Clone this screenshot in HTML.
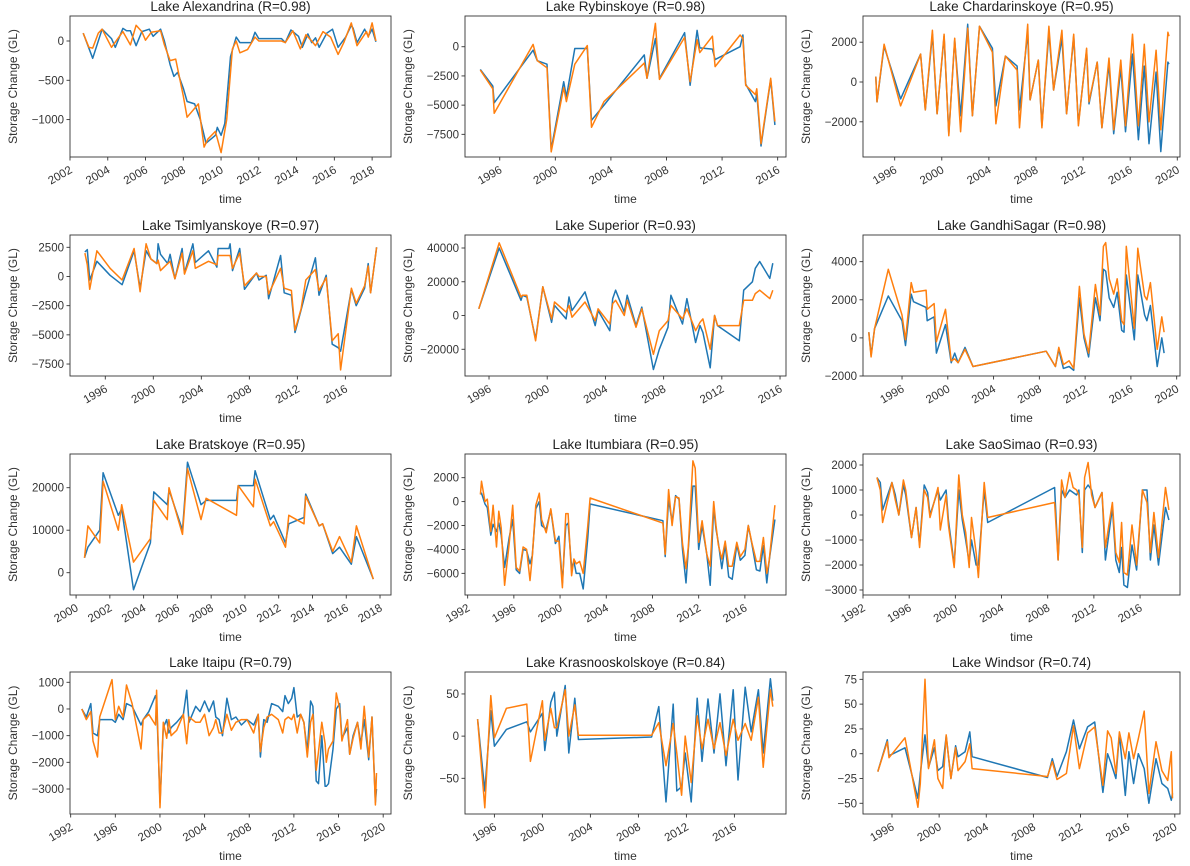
<!DOCTYPE html>
<html><head><meta charset="utf-8"><style>
html,body{margin:0;padding:0;background:#fff;}
svg{display:block;font-family:"Liberation Sans","DejaVu Sans",sans-serif;}
</style></head><body>
<svg id="fig" width="1190" height="866" viewBox="0 0 1190 866" xmlns="http://www.w3.org/2000/svg"></svg>
<script>
// ---- Panel data (years, GL) ----
const titles = ["Lake Alexandrina (R=0.98)","Lake Rybinskoye (R=0.98)","Lake Chardarinskoye (R=0.95)","Lake Tsimlyanskoye (R=0.97)","Lake Superior (R=0.93)","Lake GandhiSagar (R=0.98)","Lake Bratskoye (R=0.95)","Lake Itumbiara (R=0.95)","Lake SaoSimao (R=0.93)","Lake Itaipu (R=0.79)","Lake Krasnooskolskoye (R=0.84)","Lake Windsor (R=0.74)"];

const xTicks1=[2002,2004,2006,2008,2010,2012,2014,2016,2018];
const xTicks4=[1996,2000,2004,2008,2012,2016];
const xTicks4b=[1996,2000,2004,2008,2012,2016,2020];
const xTicksB=[2000,2002,2004,2006,2008,2010,2012,2014,2016,2018];
const xTicks92=[1992,1996,2000,2004,2008,2012,2016];
const xTicks92b=[1992,1996,2000,2004,2008,2012,2016,2020];

const yTicks=[[-1000,-500,0],[-7500,-5000,-2500,0],[-2000,0,2000],[-7500,-5000,-2500,0,2500],[-20000,0,20000,40000],[-2000,0,2000,4000],[0,10000,20000],[-6000,-4000,-2000,0,2000],[-3000,-2000,-1000,0,1000,2000],[-3000,-2000,-1000,0,1000],[-50,0,50],[-50,-25,0,25,50,75]];
const xDomains=[[2002,2019],[1993.5,2016.6],[1993.31,2020.23],[1993.06,2019.8],[1994.35,2016.41],[1992.59,2020.29],[1999.64,2018.65],[1991.77,2019.56],[1992.0,2019.46],[1991.94,2020.7],[1993.55,2020.3],[1993.54,2020.44]];
const yDomains=[[-1476,318],[-9440,2630],[-3769,3317],[-8526,3554],[-35830,47700],[-2000,5400],[-5250,27930],[-7810,3980],[-3200,2440],[-3937,1386],[-92.3,76],[-60.8,82.4]];

// 1 Alexandrina
const t1b=[2002.7,2003.2,2003.7,2004.2,2004.4,2004.8,2005.0,2005.2,2005.5,2005.8,2006.2,2006.4,2006.8,2007.0,2007.3,2007.5,2007.7,2008.0,2008.2,2008.6,2008.9,2009.2,2009.7,2009.8,2010.0,2010.2,2010.5,2010.8,2011.0,2011.6,2011.8,2012.0,2013.2,2013.4,2013.7,2014.1,2014.3,2014.6,2014.8,2015.0,2015.2,2015.6,2015.9,2016.2,2016.6,2016.9,2017.0,2017.2,2017.6,2017.8,2018.0,2018.2];
const v1b=[100,-220,150,30,-80,160,130,130,-60,120,150,60,150,0,-300,-450,-400,-600,-770,-800,-1000,-1300,-1200,-1100,-1200,-1050,-200,50,-20,-20,110,30,30,-20,140,60,-80,90,-20,40,-80,100,150,-80,50,200,160,-20,150,60,150,-10];
const t1o=[2002.7,2003.0,2003.2,2003.5,2003.7,2004.2,2004.8,2005.2,2005.5,2005.8,2006.0,2006.3,2006.8,2007.0,2007.3,2007.6,2008.0,2008.2,2008.8,2009.1,2009.3,2009.7,2010.0,2010.3,2010.6,2010.8,2011.0,2011.4,2011.8,2012.0,2013.2,2013.4,2013.8,2014.2,2014.5,2014.8,2015.0,2015.4,2015.8,2016.2,2016.5,2016.9,2017.2,2017.7,2017.8,2018.0,2018.2];
const v1o=[100,-80,-90,100,150,-80,120,-50,200,120,10,110,130,-50,-250,-230,-700,-970,-800,-1350,-1250,-1150,-1420,-1000,-100,0,-150,-110,50,0,0,-20,130,-100,80,0,-60,120,50,-170,-20,230,-60,120,50,230,0];
// 2 Rybinskoye
const t2=[1994.6,1995.5,1995.6,1998.4,1998.7,1999.4,1999.7,2000.6,2000.8,2001.4,2002.3,2002.6,2003.5,2006.4,2006.6,2007.2,2007.5,2009.3,2009.7,2010.2,2010.4,2011.3,2011.5,2013.3,2013.5,2013.7,2014.4,2014.5,2014.8,2015.5,2015.8];
const v2b=[-1940,-3370,-4800,-300,-1200,-1500,-8800,-3000,-4300,-150,-150,-6300,-5000,-700,-2700,700,-2700,1200,-3300,1400,-100,-200,-1100,0,1000,-3200,-4700,-4000,-8500,-2800,-6700];
const v2o=[-2000,-3600,-5700,200,-1200,-1800,-9000,-3500,-4700,-1500,100,-6900,-4700,-1400,-2700,2000,-2800,800,-3000,600,-500,900,-1700,1000,700,-3300,-4100,-3600,-8300,-2700,-6400];
// 3 Chardarinskoye
const t3=[1994.4,1994.5,1995.1,1996.5,1998.2,1998.6,1999.2,1999.6,2000.2,2000.6,2001.1,2001.6,2002.2,2002.6,2003.2,2004.3,2004.6,2005.4,2006.4,2006.6,2007.3,2007.5,2008.2,2008.5,2009.1,2009.5,2010.2,2010.6,2011.2,2011.6,2012.3,2012.5,2013.2,2013.6,2014.2,2014.6,2015.2,2015.6,2016.2,2016.7,2017.2,2017.6,2018.2,2018.6,2019.2,2019.3];
const v3b=[270,-1000,1800,-850,1400,-1400,2400,-1600,2300,-2600,2100,-1700,2900,-1700,2800,1700,-1200,1300,800,-1400,2500,-900,1100,-2200,2500,-400,2200,-1600,2300,-2100,1600,-1100,1000,-2300,900,-2600,700,-2500,1400,-2900,800,-3100,500,-3500,1000,900];
const v3o=[270,-1000,1900,-1200,1400,-1400,2600,-1600,2400,-2700,2200,-2500,2700,-1700,2800,1500,-2100,1300,600,-2300,2900,-900,1100,-2300,2800,-400,2600,-1600,2400,-2200,1700,-1000,1000,-2300,1200,-2400,1100,-2200,2400,-2200,1900,-2000,1600,-2400,2500,2300];
// 4 Tsimlyanskoye
const t4=[1994.3,1994.5,1994.7,1995.3,1996.4,1997.4,1998.4,1998.9,1999.4,1999.8,2000.3,2000.4,2000.6,2001.2,2001.4,2001.8,2002.4,2002.6,2003.3,2003.5,2004.6,2005.3,2005.4,2006.3,2006.4,2006.6,2007.2,2007.6,2008.6,2008.8,2009.4,2009.6,2010.6,2010.9,2011.5,2011.8,2012.3,2012.7,2013.5,2013.8,2014.4,2014.9,2015.4,2015.6,2016.5,2016.9,2017.6,2017.9,2018.1,2018.6];
const v4b=[2100,2300,-300,1300,100,-700,2200,-1000,2200,1500,1100,2800,1900,1100,1900,-200,2400,300,2800,1200,2200,800,2400,2400,2800,500,2400,-1100,300,-300,100,-1900,1800,-1400,-1600,-4800,-2900,-1300,1600,-1600,100,-5800,-6100,-6400,-1100,-2500,-1000,1100,-1400,2500];
const v4o=[2000,1000,-1100,2200,700,-300,2400,-1300,2800,1500,1100,1400,500,1100,1300,-200,2000,200,2200,700,1300,1000,1800,1800,1800,700,2000,-800,300,0,0,-1500,700,-1000,-1200,-4600,-2800,-300,600,-1200,-100,-5500,-4900,-8000,-1000,-2300,-800,900,-1400,2500];
// 5 Superior
const t5=[1995.3,1996.7,1998.2,1998.3,1998.6,1999.2,1999.7,2000.3,2000.5,2001.3,2001.5,2001.7,2002.6,2003.3,2003.5,2004.3,2004.5,2004.7,2005.3,2005.5,2006.1,2006.5,2007.3,2007.7,2008.3,2008.5,2009.3,2009.6,2010.2,2010.5,2010.7,2011.2,2011.5,2011.7,2013.2,2013.5,2014.1,2014.3,2014.6,2015.3,2015.5];
const v5b=[4000,40000,9000,12000,11000,-14000,17000,-4000,6000,-2000,11000,3000,14000,-6000,3000,-9000,10000,15000,2000,12000,-6000,5000,-32000,-20000,-7000,12000,-5000,10000,-16000,-6000,-10000,-31000,0,-6000,-15000,15000,20000,28000,32000,22000,31000];
const v5o=[4000,43000,11000,12000,12000,-15000,17000,-2000,8000,2000,6000,-1000,8000,-3000,4000,-5000,7000,9000,0,9000,-7000,4000,-23000,-9000,-3000,6000,-2000,4000,-9000,-4000,-2000,-20000,0,-6000,-6000,9000,9000,13000,15000,10000,15000];
// 6 GandhiSagar
const t6=[1993.1,1993.3,1993.6,1994.8,1996.0,1996.3,1996.8,1997.0,1998.1,1998.2,1998.8,1999.0,1999.8,2000.3,2000.6,2000.9,2001.5,2002.2,2008.6,2009.4,2009.7,2010.1,2010.6,2011.0,2011.5,2011.9,2012.3,2012.9,2013.3,2013.6,2013.8,2014.1,2014.5,2014.8,2015.2,2015.4,2015.6,2016.3,2016.6,2017.2,2017.4,2017.7,2018.3,2018.7,2018.9];
const v6b=[300,-900,500,2200,900,-400,2300,1900,1600,900,1100,-800,700,-1300,-800,-1300,-500,-1500,-700,-1500,-600,-1600,-1500,-1700,2100,0,-1000,2100,900,3600,3500,2100,1600,2400,400,300,3300,-100,3300,1200,900,1700,-1500,0,-800];
const v6o=[300,-1000,500,3600,1200,-100,2900,2400,2500,1500,1800,-200,1500,-1200,-1100,-1300,-600,-1500,-700,-1500,-500,-1400,-1200,-1600,2700,200,-800,2800,1200,4800,5000,3100,2300,3100,900,700,4800,500,4700,2200,2000,2900,-600,1100,300];
// 7 Bratskoye
const t7=[2000.5,2000.7,2001.4,2001.6,2002.5,2002.7,2003.4,2004.4,2004.6,2005.4,2005.5,2006.3,2006.6,2007.4,2007.7,2009.5,2009.6,2010.5,2010.6,2011.5,2011.7,2012.4,2012.6,2013.5,2013.6,2014.4,2014.6,2015.2,2015.6,2016.3,2016.6,2017.6];
const v7b=[3500,6000,10000,23500,13500,15000,-4000,7000,19000,16000,19500,10000,26000,16000,17000,17000,20500,20500,24000,12500,13500,7000,11500,13000,18500,11000,11500,4500,6000,2000,8500,-1500];
const v7o=[3500,11000,7000,21500,10000,16000,2500,8000,17000,12500,20000,9000,24500,12500,17500,13500,20500,15500,22000,11000,12000,6000,13500,11500,18000,11000,11500,5000,8500,2500,11000,-1500];
// 8 Itumbiara
const t8=[1993.1,1993.2,1993.5,1993.7,1994.0,1994.2,1994.5,1994.7,1994.9,1995.2,1995.6,1995.9,1996.2,1996.5,1996.8,1997.1,1997.4,1997.6,1997.9,1998.2,1998.4,1998.8,1999.2,1999.6,1999.9,2000.2,2000.5,2000.7,2001.0,2001.2,2001.4,2001.7,2002.0,2002.4,2002.6,2008.9,2009.1,2009.4,2009.7,2010.0,2010.3,2010.6,2010.9,2011.1,2011.5,2011.7,2012.0,2012.3,2012.7,2013.0,2013.3,2013.5,2013.7,2014.0,2014.3,2014.6,2014.9,2015.3,2015.6,2016.0,2016.3,2016.6,2017.0,2017.3,2017.6,2017.9,2018.1,2018.6];
const v8b=[600,700,-200,-500,-2800,-1900,-2500,-1800,-2800,-5500,-3000,-1500,-5700,-6000,-4000,-4100,-5200,-4500,-600,0,-2000,-2300,-700,-3500,-2900,-6800,-2000,-1800,-5500,-5000,-6000,-6000,-7300,-3000,-200,-1600,-4600,200,-1700,500,200,-4000,-6800,-4000,1300,1300,-4000,-2000,-4400,-7000,-500,-2300,-3400,-5600,-3600,-6300,-6500,-3600,-4900,-4500,-2000,-3500,-5700,-5800,-3700,-6800,-5000,-1500];
const v8o=[600,1700,0,200,-2500,-300,-3800,-800,-2200,-7000,-3500,-300,-5500,-5800,-3800,-4000,-6600,-4600,-300,700,-1500,-2600,-600,-3300,-3300,-7200,-1000,-1000,-6200,-4800,-5200,-5000,-6000,-2000,300,-1800,-4400,1000,-2000,400,300,-3500,-5600,-3800,3400,2800,-3400,-1600,-4400,-5400,0,-2000,-3600,-4800,-3300,-5400,-5400,-3400,-4600,-4000,-2000,-3400,-5000,-5000,-3000,-6000,-5000,-300];
// 9 SaoSimao
const t9=[1993.2,1993.5,1993.7,1994.5,1994.8,1995.1,1995.5,1995.7,1996.2,1996.6,1996.9,1997.3,1997.6,1997.8,1998.5,1998.7,1999.2,1999.4,1999.9,2000.3,2000.6,2000.9,2001.2,2001.4,2001.8,2002.0,2002.5,2002.8,2008.6,2008.9,2009.2,2009.5,2009.9,2010.2,2010.5,2010.7,2011.0,2011.2,2011.5,2011.8,2012.1,2012.7,2013.0,2013.6,2013.9,2014.2,2014.4,2014.6,2014.9,2015.3,2015.7,2016.2,2016.6,2016.9,2017.2,2017.6,2018.2,2018.5];
const v9b=[1500,1300,200,1300,800,0,1200,800,-900,300,-1200,1200,900,0,1000,600,1000,-200,-2000,1000,-200,-1000,-1900,-1000,-2000,-2000,1000,-300,1100,-1800,1000,700,1000,900,800,1000,-1500,1000,1200,1000,300,900,-1800,300,-1800,-2300,-1300,-2800,-2900,-1200,-2200,1000,1000,-1800,-400,-2000,300,-200];
const v9o=[1500,1000,-300,1300,600,0,1400,1000,-900,300,-1300,1000,700,-100,1100,-600,800,-400,-2100,1600,0,-700,-2100,-100,-1500,-2500,1300,-100,500,-1800,1400,700,1700,1100,1000,800,-1300,1500,2100,800,300,900,-1300,500,-1500,-1900,-300,-2300,-2400,-400,-2000,1000,500,-1500,100,-1700,1100,200];
// 10 Itaipu
const t10=[1993.0,1993.4,1993.8,1994.0,1994.4,1994.6,1995.7,1996.0,1996.3,1996.7,1997.0,1997.5,1998.3,1998.5,1999.0,1999.6,1999.7,2000.0,2000.3,2000.6,2000.8,2001.0,2001.5,2002.1,2002.4,2002.6,2003.2,2003.6,2004.0,2004.4,2004.8,2005.0,2005.3,2005.6,2006.0,2006.4,2006.8,2007.3,2007.8,2008.4,2008.8,2009.0,2009.3,2009.6,2010.0,2010.6,2011.0,2011.2,2011.5,2011.8,2012.0,2012.3,2012.6,2012.9,2013.2,2013.5,2013.7,2014.0,2014.2,2014.5,2014.8,2014.9,2015.1,2015.5,2015.8,2016.1,2016.3,2016.8,2017.0,2017.3,2017.7,2018.0,2018.3,2018.7,2019.0,2019.3,2019.4];
const v10b=[0,-300,200,-900,-1000,-400,-400,-500,-200,-400,200,100,-600,-400,-100,500,300,-3500,-700,-400,-900,-700,-500,-200,700,-500,100,-100,300,-100,300,-300,-400,-1000,400,-400,-300,-600,-400,-600,-200,-1800,-400,-500,200,100,-100,500,200,400,800,-300,-200,-500,-1600,300,100,-2700,-2800,-1000,-2900,-2900,-2800,-1500,0,200,-1100,-700,-1700,-1000,-500,-1300,-400,-1900,-300,-3500,-3000];
const v10o=[0,-400,-100,-1200,-1800,-300,1100,-400,100,-300,900,200,-1500,-400,-200,-600,700,-3700,-500,-1100,-400,-1000,-800,-200,-1300,-300,-500,-500,-200,-1000,-700,-400,-900,-900,-200,-800,-500,-400,-400,-900,-200,-1600,-700,-300,-200,-400,-900,-400,-300,-400,-200,-900,-200,-500,-1800,-500,-200,-2300,-1600,-500,-1300,-2000,-1500,-1200,600,0,-1200,-400,-1700,-1100,-500,-1500,100,-1800,-300,-3600,-2400];
// 11 Krasnooskolskoye
const t11=[1994.6,1995.2,1995.7,1996.0,1997.0,1998.7,1999.0,2000.0,2000.2,2000.7,2001.0,2001.2,2001.9,2002.2,2002.7,2003.0,2009.1,2009.7,2010.3,2010.9,2011.2,2011.6,2011.9,2012.4,2012.9,2013.3,2013.8,2014.3,2014.8,2015.3,2015.9,2016.3,2016.9,2017.4,2018.0,2018.4,2019.0,2019.2];
const v11b=[20,-65,30,-12,8,17,5,27,-17,40,52,0,60,-20,45,-4,-1,35,-78,38,-65,-60,-20,-78,45,-30,44,-20,50,-35,55,-52,58,5,55,-20,68,42];
const v11o=[20,-85,48,-2,33,38,-30,42,-5,33,10,10,55,0,37,1,1,16,-35,15,-20,-70,0,-55,24,-15,20,-15,16,-23,20,-5,15,-5,46,-37,55,35];
// 12 Windsor
const t12=[1994.8,1995.6,1995.75,1997.1,1998.2,1998.4,1998.8,1999.1,1999.6,1999.9,2000.3,2000.6,2001.0,2001.4,2001.6,2002.2,2002.6,2002.8,2009.2,2009.6,2010.0,2010.8,2011.4,2011.9,2012.6,2013.2,2013.9,2014.3,2014.6,2015.0,2015.3,2015.8,2016.1,2016.5,2016.9,2017.4,2017.8,2018.4,2018.9,2019.4,2019.7,2019.8];
const v12b=[-18,14,-2,6,-45,-20,19,-14,6,-17,-13,18,-25,8,-3,2,22,-3,-24,-5,-23,2,34,5,27,32,-39,0,-10,-25,20,-42,2,-30,0,-15,-50,-5,-30,-35,-47,-40];
const v12o=[-18,12,-4,16,-54,-30,75,-15,14,-25,-35,19,-25,6,-17,-8,10,-15,-23,-8,-26,-20,28,-15,21,27,-32,23,16,-20,22,-5,21,-5,15,43,-40,12,-17,-27,2,-45];

const seriesT=[[t1b,t1o],[t2,t2],[t3,t3],[t4,t4],[t5,t5],[t6,t6],[t7,t7],[t8,t8],[t9,t9],[t10,t10],[t11,t11],[t12,t12]];
const seriesV=[[v1b,v1o],[v2b,v2o],[v3b,v3o],[v4b,v4o],[v5b,v5o],[v6b,v6o],[v7b,v7o],[v8b,v8o],[v9b,v9o],[v10b,v10o],[v11b,v11o],[v12b,v12o]];
const xTickSets=[xTicks1,xTicks4,xTicks4b,xTicks4,xTicks4,xTicks4b,xTicksB,xTicks92,xTicks92,xTicks92b,xTicks4,xTicks4b];

// layout (not data)
const colL=[70,465,863], colR=[391,786,1180];
const rowT=[16,235,454,672], rowB=[157,376,595,814];
const NS="http://www.w3.org/2000/svg";
const svg=document.getElementById('fig');
function mk(tag,attrs,parent){const e=document.createElementNS(NS,tag);for(const k in attrs)e.setAttribute(k,attrs[k]);(parent||svg).appendChild(e);return e;}
function fmt(v){return (v<0?'\u2212':'')+Math.abs(v);}

for(let p=0;p<12;p++){
  const c=p%3,r=Math.floor(p/3);
  const L=colL[c],R=colR[c],T=rowT[r],B=rowB[r];
  const xd=xDomains[p],yd=yDomains[p];
  const xs=v=>L+(v-xd[0])/(xd[1]-xd[0])*(R-L);
  const ys=v=>B-(v-yd[0])/(yd[1]-yd[0])*(B-T);
  const g=mk('g',{});
  
  
  const title=mk('text',{x:(L+R)/2,y:T-5,'text-anchor':'middle','font-size':'13.5',fill:'#222'},g);
  title.textContent=titles[p];
  
  
  // lines
  const cols=['#1f77b4','#ff7f0e'];
  const names=['observed-line','predicted-line'];
  for(let s=0;s<2;s++){
    const tt=seriesT[p][s],vv=seriesV[p][s];
    const d=tt.map((t,i)=>(i?'L':'M')+xs(t).toFixed(1)+','+ys(vv[i]).toFixed(1)).join('');
    const path=mk('path',{d:d,fill:'none',stroke:cols[s],'stroke-width':'1.5','stroke-linejoin':'round'},g);
    
    
  }
  const frame=mk('rect',{x:L,y:T,width:R-L,height:B-T,fill:'none',stroke:'#333','stroke-width':'0.9'},g);
  
  
  // y ticks
  for(const v of yTicks[p]){
    const y=ys(v);
    mk('line',{x1:L-3.5,x2:L,y1:y,y2:y,stroke:'#333','stroke-width':'0.9'},g);
    const tl=mk('text',{x:L-6,y:y+4,'text-anchor':'end','font-size':'11.5',fill:'#333'},g);
    tl.textContent=fmt(v);
    
    
  }
  // x ticks
  for(const v of xTickSets[p]){
    const x=xs(v);
    mk('line',{x1:x,x2:x,y1:B,y2:B+3.5,stroke:'#333','stroke-width':'0.9'},g);
    const tl=mk('text',{transform:'translate('+(x+3)+','+(B+15)+') rotate(-30)','text-anchor':'end','font-size':'11.5',fill:'#333'},g);
    tl.textContent=v;
    
    
  }
  const xl=mk('text',{x:(L+R)/2,y:B+46,'text-anchor':'middle','font-size':'12',fill:'#333'},g);
  xl.textContent='time';
  
  
  const yl=mk('text',{transform:'translate('+(L-53)+','+((T+B)/2)+') rotate(-90)','text-anchor':'middle','font-size':'12',fill:'#333'},g);
  yl.textContent='Storage Change (GL)';
  
  
}
</script>
</body></html>
